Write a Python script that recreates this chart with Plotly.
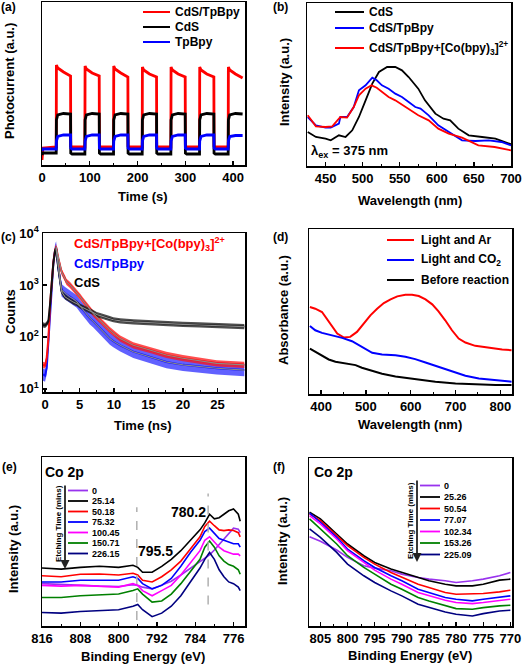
import plotly.graph_objects as go

W, H = 524, 666
FONT = "Liberation Sans, Arial, sans-serif"


def X(p):
    return p / W


def Y(p):
    return 1 - p / H


# ---------------- data ----------------
# (a) photocurrent
t_a = [0, 2, 29.8,
       30.2, 33, 45, 59.8, 60.2, 63, 89.8,
       90.2, 93, 105, 119.8, 120.2, 123, 149.8,
       150.2, 153, 165, 179.8, 180.2, 183, 209.8,
       210.2, 213, 225, 239.8, 240.2, 243, 269.8,
       270.2, 273, 285, 299.8, 300.2, 303, 329.8,
       330.2, 333, 345, 359.8, 360.2, 363, 389.8,
       390.2, 393, 405, 420]
a_cds_tpbpy = [5, 17, 18,
               100, 97, 93, 89, 19, 18, 18,
               99, 96, 92, 89, 19, 18, 18,
               99, 96, 92, 88, 19, 18, 18,
               98, 95, 91, 88, 19, 18, 18,
               98, 95, 91, 88, 19, 18, 18,
               98, 95, 91, 88, 19, 18, 18,
               98, 95, 91, 87]
a_cds = [10, 12, 12,
         45, 50, 51.5, 51, 12, 11, 11,
         45, 50, 51.5, 51, 12, 11, 11,
         45, 50, 51.5, 51, 12, 11, 11,
         45, 50, 51.5, 51, 12, 11, 11,
         45, 50, 51.5, 51, 12, 11, 11,
         45, 50, 51.5, 51, 12, 11, 11,
         45, 50, 51.5, 51]
a_tpbpy = [14, 16, 16,
           24, 28.5, 30, 30, 17, 16, 16,
           24, 28.5, 30, 30, 17, 16, 16,
           24, 28.5, 30, 30, 17, 16, 16,
           24, 28.5, 30, 30, 17, 16, 16,
           24, 28.5, 30, 30, 17, 16, 16,
           24, 28.5, 30, 30, 17, 16, 16,
           24, 28.5, 29.5, 29.5]

# (b) PL spectra
b_wl_cds = [426, 437, 450, 457, 468, 477, 486, 495, 504, 513, 522, 533, 544, 553, 562,
            571, 575, 584, 598, 609, 618, 629, 643, 661, 679, 700]
b_cds = [102, 87, 82, 77, 92, 87, 107, 147, 197, 247, 282, 297, 297, 287, 267,
         242, 232, 197, 157, 142, 137, 112, 92, 87, 82, 65]
b_wl_tp = [426, 437, 450, 457, 468, 470, 479, 488, 495, 499, 504, 513, 519, 526, 535,
           544, 553, 562, 571, 578, 589, 602, 616, 634, 652, 670, 687, 700]
b_tp = [147, 122, 115, 115, 127, 147, 147, 177, 227, 235, 242, 265, 257, 242, 232,
        217, 207, 192, 177, 172, 152, 122, 102, 77, 75, 77, 72, 62]
b_wl_co = [426, 437, 450, 459, 470, 479, 488, 495, 504, 512, 519, 526, 535, 544, 553,
           562, 575, 589, 602, 616, 634, 656, 678, 700]
b_co = [152, 119, 117, 119, 147, 145, 177, 212, 232, 242, 235, 222, 207, 197, 184,
        172, 152, 137, 112, 97, 85, 62, 57, 47]

# (c) TRPL decay
t_c = [-0.3, 0, 0.24, 0.48, 0.72, 0.97, 1.2, 1.45, 1.6, 1.93, 2.2, 2.4, 2.9, 3.1, 3.6,
       4.1, 4.6, 5.1, 5.5, 6.0, 6.5, 7.0, 7.5, 8.0, 8.4, 8.9, 9.4, 9.9, 10.4, 10.9,
       12.8, 15.2, 17.6, 20.0, 22.4, 24.9, 28.9]
c_co = [29, 28, 40, 93, 407, 1148, 2754, 4677, 5370, 3236, 2399, 1778, 1318, 1148, 1000,
        851, 708, 589, 501, 407, 339, 282, 240, 209, 182, 158, 135, 117, 105, 93,
        69, 56, 45, 39, 35, 31, 29]
c_tp = [19, 18, 25, 80, 355, 1070, 2630, 4570, 5250, 2090, 1148, 794, 692, 661, 589,
        537, 479, 389, 331, 275, 229, 200, 170, 148, 126, 110, 93, 83, 76, 69,
        52, 42, 33, 29, 27, 25, 23]
c_cds = [170, 166, 178, 200, 417, 1148, 2630, 4570, 5000, 2090, 1148, 741, 589, 562, 513,
         468, 437, 389, 363, 339, 316, 295, 269, 257, 245, 234, 224, 214, 209, 204,
         195, 186, 182, 174, 170, 166, 158]
c_spread = {"co": 0.06, "tp": 0.12, "cds": 0.05}  # half-width of scatter band (decades)

# (d) absorbance
d_wl_ar = [375, 387, 402, 413, 425, 436, 451, 465, 480, 495, 510, 525, 540, 555, 570,
           588, 603, 618, 633, 648, 662, 677, 692, 707, 722, 744, 774, 804, 825]
d_ar = [262, 257, 247, 227, 202, 182, 170, 172, 187, 212, 237, 257, 274, 285, 294,
        299, 299, 295, 285, 270, 249, 222, 192, 167, 155, 145, 139, 134, 132]
d_wl_co2 = [375, 387, 402, 425, 447, 469, 484, 499, 514, 536, 566, 588, 610, 633, 655,
            677, 700, 722, 752, 789, 825]
d_co2 = [205, 192, 184, 177, 169, 159, 147, 135, 124, 119, 117, 112, 105, 95, 85,
         77, 65, 55, 47, 41, 37]
d_wl_before = [375, 387, 402, 417, 432, 454, 477, 491, 514, 536, 566, 596, 625, 655, 700,
               744, 789, 825]
d_before = [137, 127, 115, 104, 97, 92, 87, 79, 69, 61, 53, 47, 41, 37, 32, 29, 27, 27]

# (e) XPS Co 2p, series 1
e_be = [816, 812, 808, 804, 800, 797, 796, 795, 793, 791, 789, 787, 785, 783, 782, 781,
        780, 779, 778, 777, 776, 775, 774.6]
e_labels = ["0", "25.14", "50.18", "75.32", "100.45", "150.71", "226.15"]
e_0 = [122, 119, 117, 115, 114, 119, 117, 112, 107, 117, 129, 147, 167, 185, 195, 205,
       219, 235, 252, 267, 282, 279, 269]
e_25 = [167, 164, 169, 172, 169, 175, 169, 155, 155, 172, 192, 217, 247, 277, 297, 322,
        309, 312, 322, 332, 337, 322, 302]
e_50 = [145, 142, 149, 150, 147, 152, 147, 132, 127, 142, 162, 187, 222, 257, 287, 302,
        289, 277, 275, 277, 275, 269, 257]
e_75 = [127, 127, 132, 132, 132, 142, 137, 122, 107, 117, 137, 172, 212, 247, 272, 282,
        267, 252, 247, 242, 237, 237, 227]
e_100 = [117, 115, 117, 114, 112, 122, 117, 102, 87, 102, 117, 147, 182, 217, 247, 257,
         242, 227, 217, 212, 207, 207, 202]
e_150 = [82, 82, 87, 90, 92, 102, 107, 92, 69, 72, 92, 122, 157, 192, 227, 245,
         227, 202, 187, 177, 172, 162, 149]
e_226 = [39, 37, 42, 45, 47, 57, 62, 47, 27, 37, 57, 87, 127, 167, 192, 212,
         192, 162, 142, 127, 122, 112, 102]
e_peaks = [796.2, 781.3]
e_peak_labels = ["795.5", "780.2"]

# (f) XPS Co 2p, series 2
f_be = [807, 805, 802, 800, 797, 795, 792, 790, 787, 785, 782, 780, 777, 775, 772, 770]
f_labels = ["0", "25.26", "50.54", "77.07", "102.34", "153.26", "225.09"]
f_0 = [267, 253, 227, 205, 180, 173, 165, 155, 145, 140, 135, 130, 135, 140, 150, 160]
f_25 = [340, 320, 275, 245, 210, 190, 170, 160, 145, 135, 125, 120, 120, 125, 137, 140]
f_50 = [335, 315, 270, 240, 205, 185, 160, 145, 125, 115, 100, 95, 95, 97, 102, 107]
f_77 = [337, 310, 265, 230, 195, 175, 150, 135, 110, 100, 85, 80, 75, 80, 87, 90]
f_102 = [330, 305, 260, 225, 190, 167, 140, 125, 100, 90, 77, 70, 67, 70, 75, 80]
f_153 = [320, 290, 245, 210, 175, 155, 125, 110, 85, 75, 60, 52, 50, 55, 60, 62]
f_225 = [290, 265, 220, 185, 150, 130, 105, 90, 65, 55, 42, 35, 30, 37, 45, 47]

XPS_COLORS = ["#9933ee", "#000000", "#ff0000", "#0000ff", "#ff00ff", "#008000", "#000080"]

# ---------------- figure ----------------
fig = go.Figure()


def line(xs, ys, color, width, ax):
    fig.add_trace(go.Scatter(x=xs, y=ys, mode="lines", line=dict(color=color, width=width),
                             xaxis="x" + ax, yaxis="y" + ax, showlegend=False,
                             hoverinfo="skip"))


# (a)
line(t_a, a_cds_tpbpy, "#ff0000", 2.8, "")
line(t_a, a_cds, "#000000", 2.8, "")
line(t_a, a_tpbpy, "#0000ff", 2.8, "")

# (b)
line(b_wl_cds, b_cds, "#000000", 1.8, "2")
line(b_wl_tp, b_tp, "#0000ff", 1.8, "2")
line(b_wl_co, b_co, "#ff0000", 1.8, "2")


# (c)
def band(xs, center, s, fill, ax):
    upper = [v * 10 ** s for v in center]
    lower = [v / 10 ** s for v in center]
    fig.add_trace(go.Scatter(x=xs, y=upper, mode="lines", line=dict(width=0, color=fill),
                             xaxis="x" + ax, yaxis="y" + ax, showlegend=False, hoverinfo="skip"))
    fig.add_trace(go.Scatter(x=xs, y=lower, mode="lines", line=dict(width=0, color=fill),
                             fill="tonexty", fillcolor=fill,
                             xaxis="x" + ax, yaxis="y" + ax, showlegend=False, hoverinfo="skip"))


band(t_c, c_tp, c_spread["tp"], "rgba(30,30,255,0.7)", "3")
line(t_c, c_tp, "#1010ff", 2, "3")
band(t_c, c_co, c_spread["co"], "rgba(255,20,20,0.75)", "3")
line(t_c, c_co, "#ff1010", 2, "3")
band(t_c, c_cds, c_spread["cds"], "rgba(20,20,20,0.75)", "3")
line(t_c, c_cds, "#111111", 2, "3")
line(t_c[8:], c_co[8:], "#8a8a8a", 1.1, "3")
line(t_c[8:], c_tp[8:], "#8a8a8a", 1.1, "3")
line(t_c[8:], c_cds[8:], "#8a8a8a", 1.1, "3")

# (d)
line(d_wl_ar, d_ar, "#ff0000", 2, "4")
line(d_wl_co2, d_co2, "#0000ff", 2, "4")
line(d_wl_before, d_before, "#000000", 2, "4")

# (e)
for ys, c in zip([e_0, e_25, e_50, e_75, e_100, e_150, e_226], XPS_COLORS):
    line(e_be, ys, c, 1.6, "5")

# (f)
for ys, c in zip([f_0, f_25, f_50, f_77, f_102, f_153, f_225], XPS_COLORS):
    line(f_be, ys, c, 1.6, "6")

# ---------------- axes ----------------
TICKFONT = dict(family=FONT, size=13, color="black", weight="bold")


def xax(l, r, rng, tickvals, mdtick, anchor, ticktext=None):
    d = dict(domain=[X(l), X(r)], range=rng, anchor=anchor, showline=True, linecolor="black",
             linewidth=1.5, mirror=True, ticks="inside", ticklen=4, tickwidth=1.3,
             tickcolor="black", tickmode="array", tickvals=tickvals, tickfont=TICKFONT,
             showgrid=False, zeroline=False,
             minor=dict(ticks="inside", ticklen=2.5, tickwidth=1, tickcolor="black",
                        tickmode="linear", tick0=0, dtick=mdtick, showgrid=False))
    if ticktext is not None:
        d["ticktext"] = ticktext
    return d


def yax(top, bot, rng, anchor):
    return dict(domain=[Y(bot), Y(top)], range=rng, anchor=anchor, showline=True,
                linecolor="black", linewidth=1.5, mirror=True, ticks="",
                showticklabels=False, showgrid=False, zeroline=False)


layout = dict(
    width=W, height=H, margin=dict(l=0, r=0, t=0, b=0, autoexpand=False),
    paper_bgcolor="white", plot_bgcolor="white", showlegend=False,
    xaxis=xax(42, 245, [0, 425], [0, 100, 200, 300, 400], 50, "y"),
    yaxis=yax(2, 165, [0, 163], "x"),
    xaxis2=xax(307, 511, [425, 700], [450, 500, 550, 600, 650, 700], 25, "y2"),
    yaxis2=yax(3, 166, [0, 489], "x2"),
    xaxis3=xax(43, 245, [-0.3, 29], [0, 5, 10, 15, 20, 25], 2.5, "y3"),
    yaxis3=dict(domain=[Y(392), Y(233)], type="log", range=[0.94, 4.0], anchor="x3",
                showline=True, linecolor="black", linewidth=1.5, mirror=True,
                ticks="inside", ticklen=4, tickwidth=1.3, tickcolor="black",
                tickmode="array", tickvals=[10, 100, 1000, 10000],
                ticktext=["10<sup>1</sup>", "10<sup>2</sup>", "10<sup>3</sup>", "10<sup>4</sup>"],
                tickfont=TICKFONT, showgrid=False, zeroline=False),
    xaxis4=xax(309, 512, [373, 826], [400, 500, 600, 700, 800], 50, "y4"),
    yaxis4=yax(229, 394, [0, 497], "x4"),
    xaxis5=xax(42, 245, [816, 773.6], [816, 808, 800, 792, 784, 776], 4, "y5"),
    yaxis5=yax(457, 626, [0, 487], "x5"),
    xaxis6=xax(309, 512, [807.1, 769.7], [805, 800, 795, 790, 785, 780, 775, 770], 2.5, "y6"),
    yaxis6=yax(458, 626, [0, 502], "x6"),
)

ann = []
shapes = []


def text(x, y, s, size=13, color="black", xanchor="center", angle=0, bold=True):
    ann.append(dict(x=X(x), y=Y(y), xref="paper", yref="paper", text=s, showarrow=False,
                    xanchor=xanchor, yanchor="middle", textangle=angle,
                    font=dict(family=FONT, size=size, color=color,
                              weight="bold" if bold else "normal")))


def hline(x0, x1, y, color, width=2):
    shapes.append(dict(type="line", xref="paper", yref="paper", x0=X(x0), x1=X(x1),
                       y0=Y(y), y1=Y(y), line=dict(color=color, width=width)))


def arrow(x, y_top, y_bot):
    ann.append(dict(x=X(x), y=Y(y_bot), ax=0, ay=-(y_bot - y_top), xref="paper",
                    yref="paper", axref="pixel", ayref="pixel", text="", showarrow=True,
                    arrowhead=2, arrowsize=1, arrowwidth=1.8, arrowcolor="#222222"))


# panel letters
for s, x, y in [("(a)", 8, 7), ("(b)", 280, 7), ("(c)", 8, 237), ("(d)", 280, 237),
                ("(e)", 9, 467), ("(f)", 279, 467)]:
    text(x, y, s, size=12)

# axis titles
text(143, 197, "Time (s)")
text(10, 81, "Photocurrent (a.u.)", angle=-90)
text(410, 200, "Wavelength (nm)")
text(284, 82, "Intensity (a.u.)", angle=-90)
text(143, 425, "Time (ns)")
text(10, 312, "Counts", angle=-90)
text(410, 424, "Wavelength (nm)")
text(283, 310, "Absorbance (a.u.)", angle=-90)
text(143, 656, "Binding Energy (eV)")
text(13, 549, "Intensity (a.u.)", angle=-90)
text(410, 655, "Binding Energy (eV)")
text(282, 541, "Intensity (a.u.)", angle=-90)

# (a) legend
for name, col, yy in [("CdS/TpBpy", "#ff0000", 12), ("CdS", "#000000", 27), ("TpBpy", "#0000ff", 42)]:
    hline(143, 170, yy, col)
    text(173, yy, name, size=12, xanchor="left")

# (b) legend
CO = "CdS/TpBpy+[Co(bpy)<sub>3</sub>]<sup>2+</sup>"
for name, col, yy in [("CdS", "#000000", 12), ("CdS/TpBpy", "#0000ff", 28), (CO, "#ff0000", 48)]:
    hline(335, 364, yy, col)
    text(367, yy, name, size=12, xanchor="left")
text(309, 152, "λ<sub>ex</sub> = 375 nm", size=13, xanchor="left")

# (c) legend
text(72, 244, CO, size=13, color="#ff0000", xanchor="left")
text(72, 264, "CdS/TpBpy", size=13, color="#0000ff", xanchor="left")
text(72, 282, "CdS", size=13, color="#000000", xanchor="left")

# (d) legend
for name, col, yy in [("Light and Ar", "#ff0000", 240), ("Light and CO<sub>2</sub>", "#0000ff", 260),
                      ("Before reaction", "#000000", 280)]:
    hline(387, 414, yy, col)
    text(419, yy, name, size=12, xanchor="left")

# (e) annotations
text(43, 472, "Co 2p", size=14, xanchor="left")
text(58, 524, "Etching Time (mins)", size=8, angle=-90)
arrow(65, 484, 569)
e_rows = [490.5, 501, 511.5, 522, 532.5, 543, 553.5]
for lab, col, yy in zip(e_labels, XPS_COLORS, e_rows):
    hline(68, 88, yy, col, 1.8)
    text(90, yy, lab, size=9, xanchor="left")
for be, y0, y1 in zip(e_peaks, [17, 62], [342, 382]):
    shapes.append(dict(type="line", xref="x5", yref="y5", x0=be, x1=be, y0=y0, y1=y1,
                       line=dict(color="#b0b0b0", width=1.5, dash="dash")))
text(155, 551, e_peak_labels[0], size=14)
text(188, 512, e_peak_labels[1], size=14)

# (f) annotations
text(312, 472, "Co 2p", size=14, xanchor="left")
text(410, 521, "Etching Time (mins)", size=8, angle=-90)
arrow(417, 479, 562)
f_rows = [485.5, 497, 508.5, 520, 531.5, 543, 554.5]
for lab, col, yy in zip(f_labels, XPS_COLORS, f_rows):
    hline(420, 440, yy, col, 1.8)
    text(442, yy, lab, size=9, xanchor="left")

layout["annotations"] = ann
layout["shapes"] = shapes
fig.update_layout(**layout)
fig.write_html("out.html",
               config={"displayModeBar": False, "staticPlot": True},
               post_script="document.body.style.margin='0px';"
                           "document.body.style.overflow='hidden';")
